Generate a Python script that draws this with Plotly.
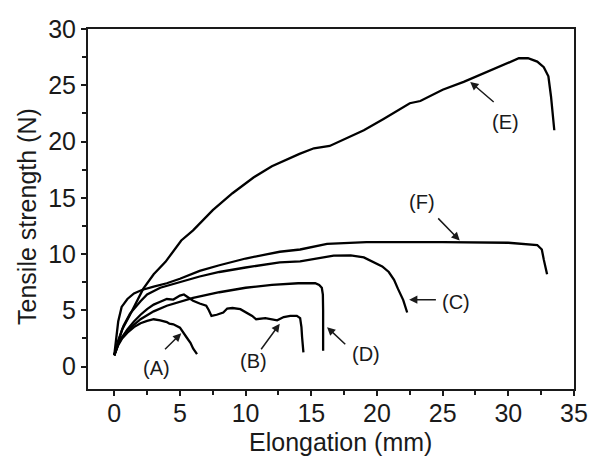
import plotly.graph_objects as go

# ---- data ----
A_x = [0, 0.3, 0.6, 1.0, 1.5, 2.0, 2.5, 3.0, 3.5, 4.0, 4.2, 4.5, 5.0, 5.3, 5.5, 5.8, 6.0, 6.3]
A_y = [1.0, 1.9, 2.5, 3.0, 3.5, 3.85, 4.05, 4.2, 4.1, 3.95, 3.8, 3.75, 3.45, 3.0, 2.6, 2.1, 1.6, 1.1]

B_x = [0, 0.3, 0.6, 1.0, 1.5, 2.0, 2.5, 3.0, 3.5, 4.0, 4.5, 5.0, 5.3, 5.7, 6.0, 6.5, 7.0, 7.2,
       7.4, 7.8, 8.3, 8.6, 9.0, 9.6, 10.1, 10.5, 10.8, 11.5, 12.4, 12.9, 13.4, 13.9, 14.15, 14.25, 14.3, 14.4]
B_y = [1.0, 2.0, 2.6, 3.3, 4.0, 4.6, 5.1, 5.5, 5.75, 6.0, 5.95, 6.3, 6.4, 6.1, 5.85, 5.6, 5.4, 5.0,
       4.5, 4.6, 4.8, 5.15, 5.2, 5.1, 4.75, 4.5, 4.2, 4.3, 4.1, 4.4, 4.5, 4.5, 4.3, 3.5, 2.6, 1.25]

C_x = [0, 0.3, 0.7, 1.2, 2.0, 2.5, 3.5, 5.0, 6.5, 8.0, 10.0, 12.6, 14.15, 16.7, 18.0, 19.0, 19.7, 20.4, 20.9, 21.3, 21.6, 22.0, 22.3]
C_y = [1.0, 2.3, 3.6, 4.7, 5.8, 6.4, 7.0, 7.5, 8.0, 8.4, 8.8, 9.25, 9.35, 9.85, 9.87, 9.7, 9.3, 8.9, 8.4, 7.7, 6.9, 5.9, 4.8]

D_x = [0, 0.3, 0.6, 1.0, 2.0, 3.0, 4.0, 5.0, 6.0, 8.0, 10.0, 12.0, 14.0, 15.3, 15.6, 15.8, 15.88, 15.9, 15.9]
D_y = [1.0, 2.0, 2.6, 3.2, 4.2, 4.9, 5.4, 5.75, 6.1, 6.6, 7.0, 7.25, 7.4, 7.4, 7.25, 7.0, 6.4, 5.0, 1.4]

E_x = [0, 0.3, 0.6, 1.2, 2.2, 3.0, 3.9, 5.1, 6.0, 7.5, 9.0, 10.6, 12.0, 14.1, 15.2, 16.4, 17.5, 19.0, 20.5,
       22.5, 23.3, 25.0, 26.6, 28.0, 29.6, 30.3, 30.8, 31.5, 32.2, 32.7, 33.05, 33.25, 33.35, 33.5]
E_y = [1.0, 2.2, 3.3, 4.6, 6.9, 8.2, 9.3, 11.2, 12.1, 13.9, 15.4, 16.8, 17.8, 18.9, 19.4, 19.6, 20.2, 21.0, 22.0,
       23.4, 23.6, 24.6, 25.3, 26.0, 26.8, 27.2, 27.4, 27.4, 27.1, 26.6, 25.8, 24.0, 22.5, 21.0]

F_x = [0, 0.15, 0.3, 0.56, 1.0, 1.5, 2.1, 3.0, 4.0, 5.0, 6.5, 8.0, 10.0, 12.6, 14.15, 16.2, 19.2, 25.0, 30.0, 32.2, 32.55, 32.7, 32.95]
F_y = [1.0, 2.5, 4.0, 5.3, 6.0, 6.5, 6.8, 7.1, 7.4, 7.8, 8.5, 9.0, 9.6, 10.2, 10.4, 10.9, 11.05, 11.05, 11.0, 10.8, 10.4, 9.5, 8.2]

curves = {"A": (A_x, A_y), "B": (B_x, B_y), "C": (C_x, C_y),
          "D": (D_x, D_y), "E": (E_x, E_y), "F": (F_x, F_y)}

# labels: (label, label_x, label_y, arrow_tail_x, arrow_tail_y, arrow_head_x, arrow_head_y)
labels = [
    ("(A)", 3.2, -0.1, 3.75, 1.4, 5.1, 2.95),
    ("(B)", 10.6, 0.5, 11.1, 1.4, 12.6, 3.8),
    ("(C)", 26.0, 5.7, 24.6, 5.94, 22.45, 5.94),
    ("(D)", 19.2, 1.1, 17.7, 1.85, 16.2, 3.5),
    ("(E)", 29.75, 21.75, 29.0, 23.4, 27.1, 25.3),
    ("(F)", 23.4, 14.6, 24.55, 13.3, 26.3, 11.2),
]

x_ticks = [0, 5, 10, 15, 20, 25, 30, 35]
y_ticks = [0, 5, 10, 15, 20, 25, 30]
x_title = "Elongation (mm)"
y_title = "Tensile strength (N)"

FONT = "Liberation Sans, Arial, sans-serif"
TXT = "#1a1a1a"

fig = go.Figure()
for name, (xs, ys) in curves.items():
    fig.add_trace(go.Scatter(x=xs, y=ys, mode="lines", name=name,
                             line=dict(color="black", width=2.3), showlegend=False))

for lab, lx, ly, tx, ty, hx, hy in labels:
    fig.add_annotation(x=hx, y=hy, ax=tx, ay=ty, xref="x", yref="y", axref="x", ayref="y",
                       text="", showarrow=True, arrowhead=2, arrowsize=1.1, arrowwidth=1.5,
                       arrowcolor=TXT)
    fig.add_annotation(x=lx, y=ly, xref="x", yref="y", text=lab, showarrow=False,
                       font=dict(family=FONT, size=20, color=TXT))

# axis titles as paper annotations
fig.add_annotation(x=0.52, y=-0.1486, xref="paper", yref="paper", text=x_title, showarrow=False,
                   xanchor="center", yanchor="middle", font=dict(family=FONT, size=25, color=TXT))
fig.add_annotation(x=-0.126, y=0.48, xref="paper", yref="paper", text=y_title, showarrow=False,
                   textangle=-90, xanchor="center", yanchor="middle",
                   font=dict(family=FONT, size=25, color=TXT))

axis_common = dict(showline=True, linecolor=TXT, linewidth=2, mirror=True,
                   ticks="outside", ticklen=5, tickwidth=1.5, tickcolor=TXT,
                   showgrid=False, zeroline=False, automargin=False,
                   tickfont=dict(family=FONT, size=25, color=TXT))

fig.update_xaxes(range=[-2, 35], tickvals=x_ticks, ticktext=[str(v) for v in x_ticks],
                 ticklabelstandoff=-4,
                 minor=dict(tickvals=[2.5, 7.5, 12.5, 17.5, 22.5, 27.5, 32.5], ticklen=4,
                            tickwidth=1.5, tickcolor=TXT, ticks="outside"),
                 **axis_common)
fig.update_yaxes(range=[-2, 30], tickvals=y_ticks, ticktext=[str(v) for v in y_ticks],
                 minor=dict(tickvals=[2.5, 7.5, 12.5, 17.5, 22.5, 27.5], ticklen=4,
                            tickwidth=1.5, tickcolor=TXT, ticks="outside"),
                 **axis_common)

fig.update_layout(width=592, height=457, margin=dict(l=88, r=18, t=29, b=68),
                  plot_bgcolor="white", paper_bgcolor="white")

fig.write_html("out.html", config={"displayModeBar": False},
               post_script="document.body.style.margin='0';")
